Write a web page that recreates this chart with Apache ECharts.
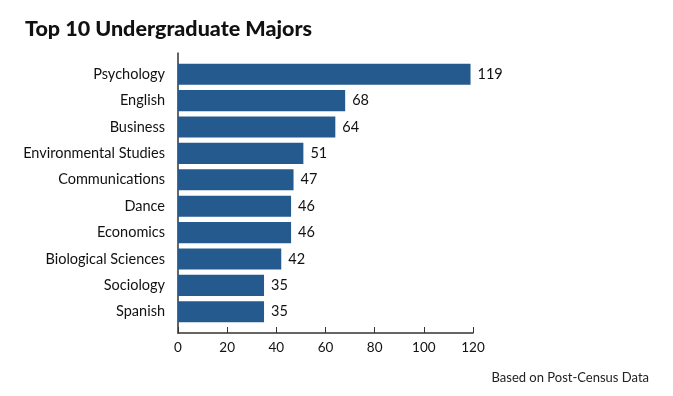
<!DOCTYPE html>
<html><head><meta charset="utf-8">
<script src="https://cdn.jsdelivr.net/npm/echarts@6/dist/echarts.min.js"></script>
<style>html,body{margin:0;padding:0;background:#fff}#c{width:673px;height:396px}</style>
</head><body><div id="c"></div>
<script>
const categories = ["Psychology","English","Business","Environmental Studies","Communications","Dance","Economics","Biological Sciences","Sociology","Spanish"];
const values = [119,68,64,51,47,46,46,42,35,35];
const xTicks = [0,20,40,60,80,100,120];
const chart = echarts.init(document.getElementById('c'));
const font = 'Lato, "Open Sans", sans-serif';
const xMin = xTicks[0], xMax = xTicks[xTicks.length-1];
chart.setOption({
  animation:false,
  backgroundColor:'#fff',
  title:[{text:'Top 10 Undergraduate Majors',left:20,top:13,textStyle:{fontFamily:font,fontSize:21.5,fontWeight:900,color:'#111'}},
         {text:'Based on Post-Census Data',right:19,top:366,textStyle:{fontFamily:font,fontSize:13,fontWeight:'normal',color:'#222'}}],
  grid:[{left:178,right:200,top:61,bottom:71},{left:178,right:200,top:53,bottom:63}],
  xAxis:[{type:'value',gridIndex:0,min:xMin,max:xMax,interval:20,show:false},
    {type:'value',gridIndex:1,min:xMin,max:xMax,interval:20,
    axisLine:{show:true,lineStyle:{color:'#333',width:1.5}},
    axisTick:{show:true,inside:true,length:6,lineStyle:{color:'#333'}},
    splitLine:{show:false},
    axisLabel:{fontFamily:font,fontSize:13.5,color:'#111',margin:8}}],
  yAxis:[{type:'category',gridIndex:0,data:categories,inverse:true,
    axisLine:{show:false},
    axisTick:{show:false},
    axisLabel:{fontFamily:font,fontSize:14.5,color:'#111',margin:13}},
    {type:'value',gridIndex:1,min:0,max:1,axisLabel:{show:false},axisTick:{show:false},splitLine:{show:false},
    axisLine:{show:true,lineStyle:{color:'#333',width:1.5}}}],
  series:[{type:'bar',xAxisIndex:0,yAxisIndex:0,data:values,barWidth:'80%',itemStyle:{color:'#245a8e'},
    label:{show:true,position:'right',distance:7,fontFamily:font,fontSize:14.5,color:'#111'}}]
});
</script></body></html>
